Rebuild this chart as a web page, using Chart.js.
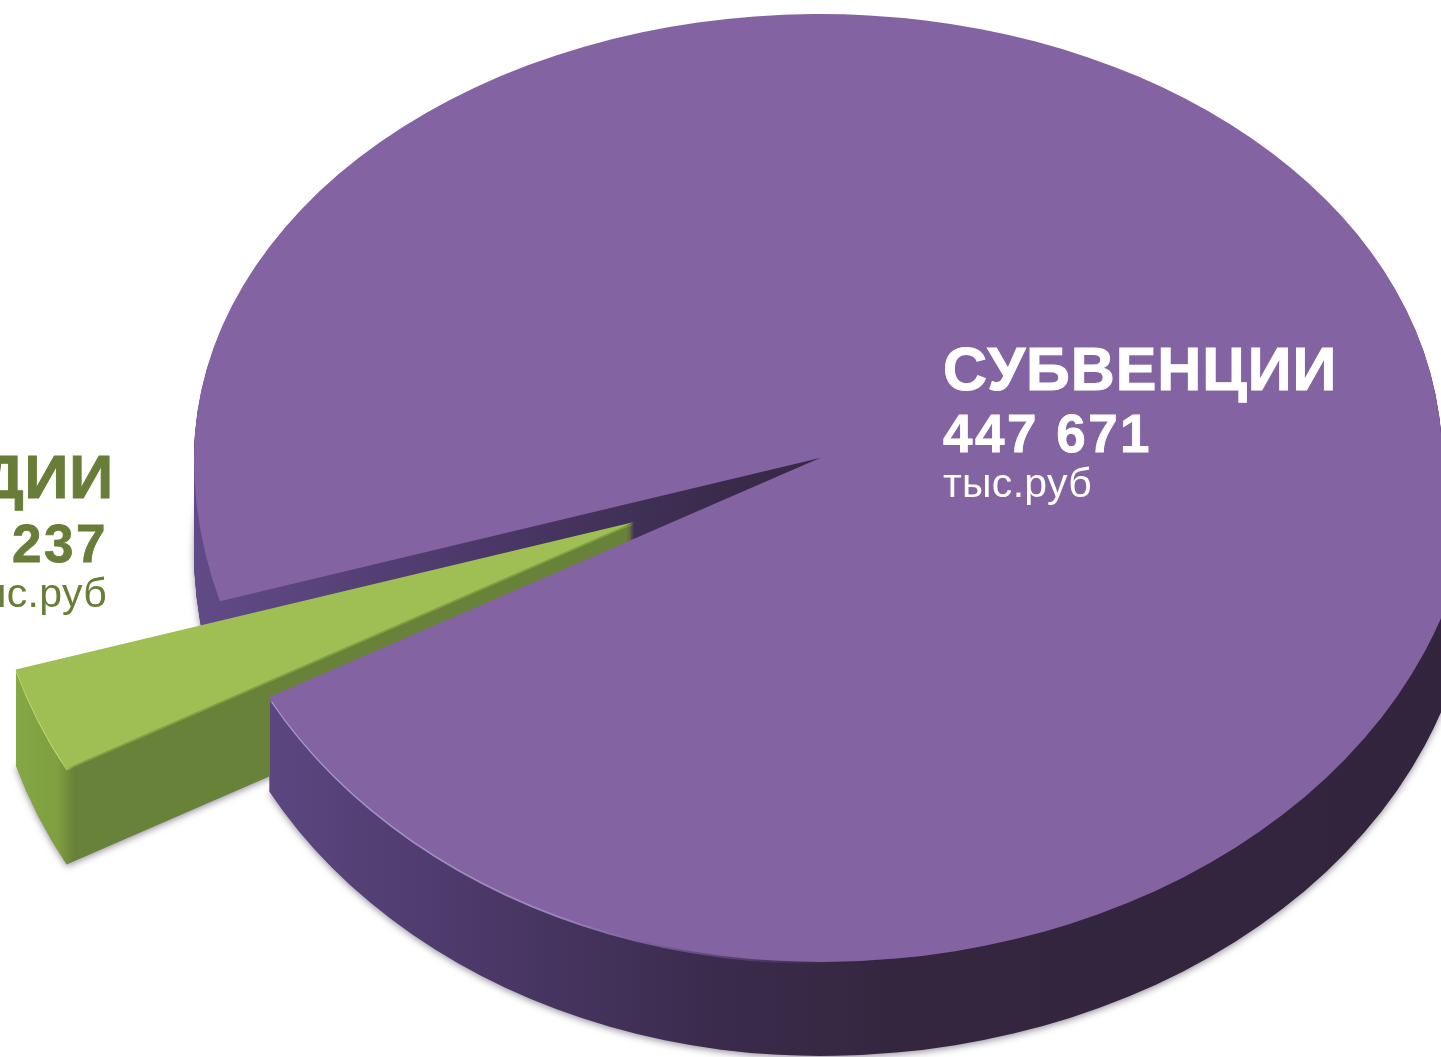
<!DOCTYPE html>
<html lang="ru">
<head>
<meta charset="utf-8">
<title>Субвенции и субсидии</title>
<style>
  html, body { margin: 0; padding: 0; background: #fff; overflow: hidden; }
  canvas { display: block; }
</style>
<script src="https://cdn.jsdelivr.net/npm/chart.js@4"></script>
</head>
<body>
<canvas id="chart" width="1441" height="1057"></canvas>
<script>
const categories = ["СУБВЕНЦИИ", "СУБСИДИИ"];
const values = [447671, 15237];
const valueLabels = ["447 671", "15 237"];
const unitLabel = "тыс.руб";

const topColors = ["#8463a2", "#9fbf55"];
const labelColors = ["#ffffff", "#687d38"];

// the pie is flattened by hand: Chart.js only knows round pies.
// each quarter gets its own radii so the outline follows the perspective
const apex = { x: 820, y: 458 };
const quarters = [
  { rx: 626, ry: 444, left: true, up: true },
  { rx: 622, ry: 444, left: false, up: true },
  { rx: 626, ry: 504, left: true, up: false },
  { rx: 655, ry: 504, left: false, up: false }
];
const depth = [94, 96];
const shift = [{ x: 0, y: 0 }, { x: -186, y: 64 }];
const grow = [1, 1.03];

const bigSide = [
  [190, "#604b88"], [272, "#5c4680"], [500, "#4a3766"],
  [720, "#3a2b4c"], [900, "#35263f"], [1480, "#33243e"]
];
const bigEdge = [
  [190, "#604b88"], [272, "#a797cf"], [560, "#9a86bd"],
  [720, "#5a4478"], [840, "#35263f"], [1480, "#33243e"]
];
const smallSide = [[10, "#86a845"], [58, "#7f9f40"], [74, "#68823a"], [280, "#68823a"]];
const smallEdge = [[10, "#bcdc78"], [60, "#bcdc78"], [74, "#7f9f40"], [280, "#7f9f40"]];

function gradientFor(ctx, cx, sx, arc, stops) {
  const toUser = (x) => (x - cx) / sx + arc.x;
  const first = stops[0][0];
  const last = stops[stops.length - 1][0];
  const gradient = ctx.createLinearGradient(toUser(first), 0, toUser(last), 0);
  stops.forEach(([x, color]) => gradient.addColorStop((x - first) / (last - first), color));
  return gradient;
}

function paintArc(ctx, arc, index, fill, drop) {
  const painted = Object.create(arc);
  const cx = apex.x + shift[index].x;
  const cy = apex.y + shift[index].y + drop;

  quarters.forEach((q) => {
    const sx = q.rx * grow[index] / arc.outerRadius;
    const sy = q.ry * grow[index] / arc.outerRadius;
    const color = Array.isArray(fill) ? gradientFor(ctx, cx, sx, arc, fill) : fill;
    painted.options = { ...arc.options, backgroundColor: color };

    ctx.save();
    ctx.beginPath();
    ctx.rect(q.left ? -200 : cx, q.up ? -200 : cy, q.left ? cx + 200 : 2000, q.up ? cy + 200 : 2000);
    ctx.clip();
    ctx.translate(cx, cy);
    ctx.scale(sx, sy);
    ctx.translate(-arc.x, -arc.y);
    painted.draw(ctx);
    ctx.restore();
  });
}

function paintSide(ctx, arc, index, stops) {
  ctx.save();
  ctx.shadowColor = "rgba(70, 60, 80, 0.55)";
  ctx.shadowBlur = 7;
  ctx.shadowOffsetY = 2;
  paintArc(ctx, arc, index, stops, depth[index]);
  ctx.restore();
  for (let drop = depth[index] - 1; drop > 0; drop--) {
    paintArc(ctx, arc, index, stops, drop);
  }
}

const pie3d = {
  id: "pie3d",
  beforeDatasetsDraw(chart) {
    const ctx = chart.ctx;
    const [big, small] = chart.getDatasetMeta(0).data;

    paintSide(ctx, big, 0, bigSide);

    // green wall stays behind the rim of the big slice
    ctx.save();
    ctx.beginPath();
    ctx.rect(-100, 0, 370, 1057);
    ctx.rect(270, 0, 1200, 702);
    ctx.clip();
    paintSide(ctx, small, 1, smallSide);
    ctx.restore();

    paintArc(ctx, small, 1, smallEdge, 2);
    paintArc(ctx, small, 1, topColors[1], 0);

    // light edge only on the front rim, not along the cut
    ctx.save();
    ctx.beginPath();
    ctx.rect(262, 702, 1200, 400);
    ctx.clip();
    paintArc(ctx, big, 0, bigEdge, 2);
    ctx.restore();
    paintArc(ctx, big, 0, topColors[0], 0);
    return false;
  },
  afterDraw(chart) {
    const ctx = chart.ctx;
    const line = (text, x, y, font, spacing, align, color, weight) => {
      ctx.font = font;
      ctx.letterSpacing = spacing + "px";
      ctx.textAlign = align;
      ctx.textBaseline = "alphabetic";
      ctx.fillStyle = color;
      ctx.fillText(text, x, y);
      if (weight) {
        ctx.strokeStyle = color;
        ctx.lineWidth = weight;
        ctx.strokeText(text, x, y);
      }
    };
    const family = '"Liberation Sans", Arial, sans-serif';

    line(categories[0], 943, 390, "bold 61px " + family, 0.9, "left", labelColors[0], 1);
    line(valueLabels[0], 943, 452, "bold 53px " + family, 2.5, "left", labelColors[0], 0.8);
    line(unitLabel, 943, 497, "41px " + family, 0.3, "left", labelColors[0]);

    line(categories[1], 114, 498, "bold 61px " + family, 0.9, "right", labelColors[1], 1);
    line(valueLabels[1], 108, 562, "bold 53px " + family, 2.5, "right", labelColors[1], 0.8);
    line(unitLabel, 107, 607, "41px " + family, 0.3, "right", labelColors[1]);
  }
};

new Chart(document.getElementById("chart"), {
  type: "pie",
  data: {
    labels: categories,
    datasets: [{ data: values, backgroundColor: topColors, borderWidth: 0 }]
  },
  options: {
    responsive: false,
    animation: false,
    rotation: 253.5,
    layout: { padding: 0 },
    plugins: {
      legend: { display: false },
      tooltip: { enabled: false }
    }
  },
  plugins: [pie3d]
});
</script>
</body>
</html>
